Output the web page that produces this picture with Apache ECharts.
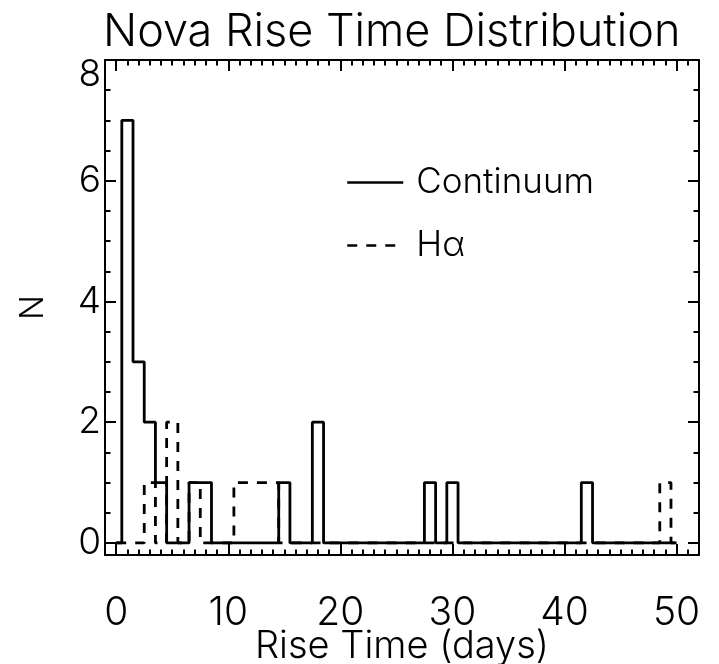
<!DOCTYPE html>
<html><head><meta charset="utf-8">
<script src="https://cdn.jsdelivr.net/npm/echarts@6/dist/echarts.min.js"></script>
<style>html,body{margin:0;padding:0;background:#fff}#c{width:719px;height:664px}</style>
</head><body><div id="c"></div>
<script>
// ---- data ----
const riseDays = [0,1,2,3,4,5,6,7,8,9,10,11,12,13,14,15,16,17,18,19,20,21,22,23,24,25,26,27,28,29,30,31,32,33,34,35,36,37,38,39,40,41,42,43,44,45,46,47,48,49,50];
const continuumCounts = [0,7,3,2,1,0,0,1,1,0,0,0,0,0,0,1,0,0,2,0,0,0,0,0,0,0,0,0,1,0,1,0,0,0,0,0,0,0,0,0,0,0,1,0,0,0,0,0,0,0,0];
const halphaCounts    = [0,0,0,1,0,2,0,1,0,0,0,1,1,1,1,0,0,0,0,0,0,0,0,0,0,0,0,0,0,0,0,0,0,0,0,0,0,0,0,0,0,0,0,0,0,0,0,0,0,1,0];
const xMajorTicks = [0,10,20,30,40,50];
const xMinorTicks = [0,1,2,3,4,5,6,7,8,9,10,11,12,13,14,15,16,17,18,19,20,21,22,23,24,25,26,27,28,29,30,31,32,33,34,35,36,37,38,39,40,41,42,43,44,45,46,47,48,49,50,51,52];
const yMajorTicks = [0,2,4,6,8];
const yMinorTicks = [0,0.5,1,1.5,2,2.5,3,3.5,4,4.5,5,5.5,6,6.5,7,7.5,8];
const seriesNames = ['Continuum','Hα'];
const titleText = 'Nova Rise Time Distribution';
const xTitle = 'Rise Time (days)';
const yTitle = 'N';

// ---- chart ----
const FONT = 'Inter, "DejaVu Sans", sans-serif';
const FW = 300;
const X_MIN = -1, X_MAX = 52, Y_MIN = -0.2, Y_MAX = 8;
const lineCol = '#000';

function xAx(pos, ticks, len, showLine, labels) {
  return {
    type: 'value', position: pos, min: X_MIN, max: X_MAX,
    axisLine: { show: showLine, onZero: false, lineStyle: { color: lineCol, width: 2 } },
    axisTick: { show: true, inside: true, length: len, customValues: ticks, lineStyle: { color: lineCol, width: 2 } },
    axisLabel: labels ? { show: true, customValues: xMajorTicks, color: '#000', fontFamily: FONT, fontWeight: FW, fontSize: 39, margin: 39 } : { show: false },
    splitLine: { show: false }
  };
}
function yAx(pos, ticks, len, showLine, labels) {
  return {
    type: 'value', position: pos, min: Y_MIN, max: Y_MAX,
    axisLine: { show: showLine, onZero: false, lineStyle: { color: lineCol, width: 2 } },
    axisTick: { show: true, inside: true, length: len, customValues: ticks, lineStyle: { color: lineCol, width: 2 } },
    axisLabel: labels ? {
      show: true, customValues: yMajorTicks, color: '#000', fontFamily: FONT, fontWeight: FW, fontSize: 37, margin: 4,
      formatter: v => (v === yMajorTicks[yMajorTicks.length - 1] ? '{top|' + v + '}' : String(v)),
      rich: { top: { padding: [30, 0, 0, 0], fontFamily: FONT, fontWeight: FW, fontSize: 37, color: '#000' } }
    } : { show: false },
    splitLine: { show: false }
  };
}

const xAxes = [
  xAx('bottom', xMajorTicks, 11, true, true),
  xAx('bottom', xMinorTicks, 5.5, false, false),
  xAx('top', xMajorTicks, 11, true, false),
  xAx('top', xMinorTicks, 5.5, false, false)
];
Object.assign(xAxes[0], { name: xTitle, nameLocation: 'middle', nameGap: 73, nameMoveOverlap: false,
  nameTextStyle: { color: '#000', fontFamily: FONT, fontWeight: FW, fontSize: 38 } });
const yAxes = [
  yAx('left', yMajorTicks, 11, true, true),
  yAx('left', yMinorTicks, 5.5, false, false),
  yAx('right', yMajorTicks, 11, true, false),
  yAx('right', yMinorTicks, 5.5, false, false)
];
Object.assign(yAxes[0], { name: yTitle, nameLocation: 'middle', nameGap: 55, nameMoveOverlap: false,
  nameTextStyle: { color: '#000', fontFamily: FONT, fontWeight: FW, fontSize: 33 } });

const chart = echarts.init(document.getElementById('c'), null, { renderer: 'canvas' });
chart.setOption({
  backgroundColor: '#fff',
  animation: false,
  title: { text: titleText, left: 98, top: 5,
    textStyle: { color: '#000', fontFamily: FONT, fontSize: 45, fontWeight: FW } },
  grid: { left: 105, right: 20, top: 60, bottom: 109, containLabel: false, outerBoundsMode: 'none' },
  legend: {
    orient: 'vertical', left: 341, top: 160, itemWidth: 56, itemHeight: 14, itemGap: 28,
    itemStyle: { opacity: 0 },
    data: [
      { name: seriesNames[0], lineStyle: { color: '#000', width: 2.5, type: 'solid' } },
      { name: seriesNames[1], lineStyle: { color: '#000', width: 2.5, type: [10, 9] } }
    ],
    textStyle: { color: '#000', fontFamily: FONT, fontWeight: FW, fontSize: 35, lineHeight: 34, padding: [0,0,0,8] }
  },
  xAxis: xAxes,
  yAxis: yAxes,
  series: [
    { name: seriesNames[1], type: 'line', step: 'middle', symbol: 'none', z: 2,
      xAxisIndex: 0, yAxisIndex: 0,
      lineStyle: { color: '#000', width: 2.8, type: [10, 9] },
      itemStyle: { color: '#000' },
      data: riseDays.map((d, i) => [d, halphaCounts[i]]) },
    { name: seriesNames[0], type: 'line', step: 'middle', symbol: 'none', z: 3,
      xAxisIndex: 0, yAxisIndex: 0,
      lineStyle: { color: '#000', width: 2.8, type: 'solid' },
      itemStyle: { color: '#000' },
      data: riseDays.map((d, i) => [d, continuumCounts[i]]) }
  ]
});
</script>
</body></html>
